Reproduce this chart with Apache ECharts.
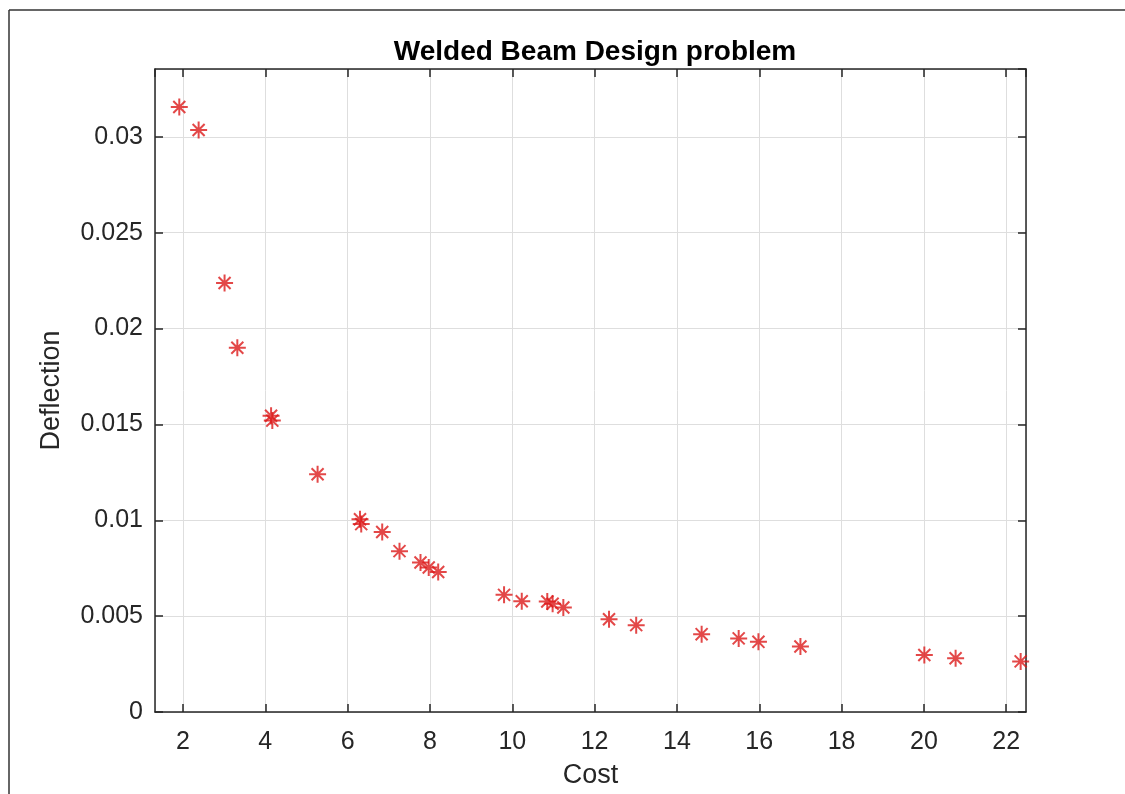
<!DOCTYPE html>
<html>
<head>
<meta charset="utf-8">
<script src="https://cdn.jsdelivr.net/npm/echarts@6/dist/echarts.min.js"></script>
<style>
  html, body { margin: 0; padding: 0; background: #fff; }
  #main { width: 1125px; height: 794px; }
</style>
</head>
<body>
<div id="main"></div>
<script>
// values
const cost = [1.91, 2.38, 3.01, 3.32, 4.14, 4.17, 5.27, 6.30, 6.33, 6.84, 7.26, 7.77, 7.97, 8.20,
  9.80, 10.23, 10.85, 10.98, 11.24, 12.35, 13.01, 14.60, 15.50, 15.98, 17.00, 20.01, 20.77, 22.35]
const deflection = [0.03156, 0.03036, 0.02238, 0.0190, 0.01545, 0.0152, 0.0124, 0.01005, 0.0098, 0.00939,
  0.00839, 0.0078, 0.00754, 0.0073, 0.00611, 0.00578, 0.00576, 0.00565, 0.00545, 0.00484, 0.00453,
  0.00406, 0.00384, 0.00366, 0.00342, 0.00297, 0.0028, 0.00264]

const xMin = 1.32, xMax = 22.48
const yMin = 0, yMax = 0.03354

const ink = '#262626'
const font = 'Liberation Sans, Arial, sans-serif'
const star = 'path://M8,0L8,16M0,8L16,8M2.35,2.35L13.65,13.65M2.35,13.65L13.65,2.35'

const chart = echarts.init(document.getElementById('main'))

const points = cost.map((c, i) => [c, deflection[i]])

chart.setOption({
  animation: false,
  backgroundColor: '#fff',
  title: {
    text: 'Welded Beam Design problem',
    left: 590,
    textAlign: 'center',
    top: 33,
    textStyle: { fontFamily: font, fontSize: 28, fontWeight: 'bold', color: '#000' }
  },
  grid: { left: 155, right: 99, top: 69, bottom: 79 },
  xAxis: [{
    type: 'value',
    min: xMin,
    max: xMax,
    splitNumber: 10,
    name: 'Cost',
    nameLocation: 'middle',
    nameGap: 50,
    nameTextStyle: { fontFamily: font, fontSize: 27, color: ink },
    axisLine: { onZero: false, lineStyle: { color: ink, width: 1.5 } },
    axisTick: { inside: true, length: 8, lineStyle: { color: ink, width: 1.5 } },
    axisLabel: { showMinLabel: false, showMaxLabel: false, margin: 18,
      fontFamily: font, fontSize: 25, color: ink },
    splitLine: { show: true, lineStyle: { color: '#dedede', width: 1 } }
  }, {
    type: 'value',
    position: 'top',
    min: xMin,
    max: xMax,
    splitNumber: 10,
    axisLine: { onZero: false, lineStyle: { color: ink, width: 1.5 } },
    axisTick: { inside: true, length: 8, lineStyle: { color: ink, width: 1.5 } },
    axisLabel: { show: false },
    splitLine: { show: false }
  }],
  yAxis: [{
    type: 'value',
    min: yMin,
    max: yMax,
    interval: 0.005,
    name: 'Deflection',
    nameLocation: 'middle',
    nameGap: 90,
    nameTextStyle: { fontFamily: font, fontSize: 27, color: ink },
    axisLine: { show: true, onZero: false, lineStyle: { color: ink, width: 1.5 } },
    axisTick: { show: true, inside: true, length: 8, lineStyle: { color: ink, width: 1.5 } },
    axisLabel: { showMaxLabel: false, margin: 12, fontFamily: font, fontSize: 25, color: ink },
    splitLine: { show: true, lineStyle: { color: '#dedede', width: 1 } }
  }, {
    type: 'value',
    position: 'right',
    min: yMin,
    max: yMax,
    interval: 0.005,
    axisLine: { show: true, onZero: false, lineStyle: { color: ink, width: 1.5 } },
    axisTick: { show: true, inside: true, length: 8, lineStyle: { color: ink, width: 1.5 } },
    axisLabel: { show: false },
    splitLine: { show: false }
  }],
  series: [{
    type: 'scatter',
    xAxisIndex: 0,
    yAxisIndex: 0,
    data: points,
    symbol: star,
    symbolSize: 17,
    symbolKeepAspect: true,
    itemStyle: { color: 'rgba(0,0,0,0)', borderColor: '#dc1a1a', borderWidth: 2 }
  }],
  graphic: [
    { type: 'line', shape: { x1: 9, y1: 10, x2: 1125, y2: 10 }, style: { stroke: '#333', lineWidth: 1.5 } },
    { type: 'line', shape: { x1: 9, y1: 10, x2: 9, y2: 794 }, style: { stroke: '#333', lineWidth: 1.5 } }
  ]
})
</script>
</body>
</html>
